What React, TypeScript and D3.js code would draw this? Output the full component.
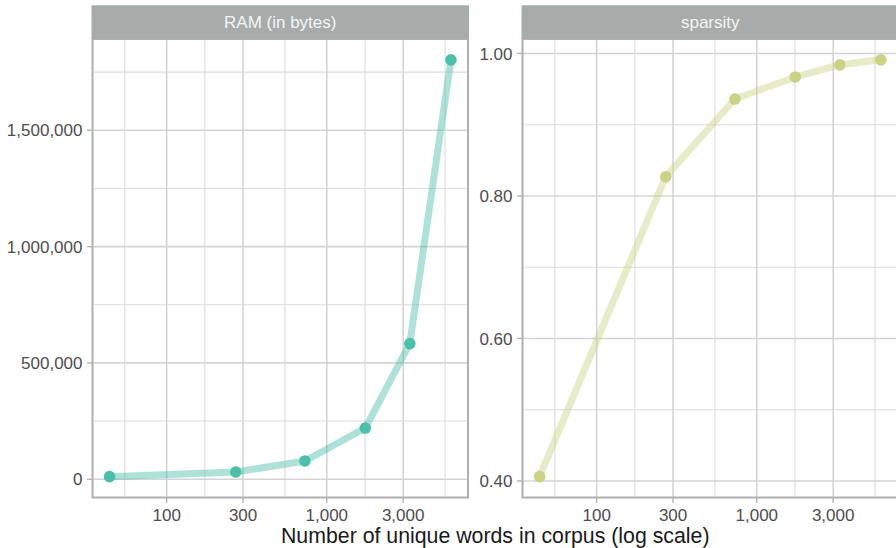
import React from "react";
import * as d3 from "d3";

// Corpus vocabulary size (x) and the two measured quantities per facet
const uniqueWords = [44, 270, 730, 1740, 3300, 5960];
const ramBytes = [11000, 31000, 78500, 220000, 583000, 1803000];
const sparsity = [0.406, 0.827, 0.936, 0.967, 0.984, 0.991];

const facetTitles = ["RAM (in bytes)", "sparsity"];
const xMajorTicks = [100, 300, 1000, 3000];
const xBreakSeq = [30, 100, 300, 1000, 3000, 10000];
const ramTicks = [0, 500000, 1000000, 1500000];
const ramMinor = [250000, 750000, 1250000, 1750000];
const sparsityTicks = [0.4, 0.6, 0.8, 1.0];
const sparsityMinor = [0.5, 0.7, 0.9];

const W = 896;
const H = 548;
const FONT = "'Liberation Sans', Arial, Helvetica, sans-serif";

const panelTop = 39;
const panelBottom = 497.5;
const stripTop = 5.3;
const panelW = 375.5;
const panelLefts = [92.5, 522.5];

type Facet = {
  title: string;
  values: number[];
  ticks: number[];
  minor: number[];
  fmt: (v: number) => string;
  point: string;
  id: string;
};

const facets: Facet[] = [
  {
    title: facetTitles[0],
    values: ramBytes,
    ticks: ramTicks,
    minor: ramMinor,
    fmt: d3.format(",d"),
    point: "#4bbfa9",
    id: "ram",
  },
  {
    title: facetTitles[1],
    values: sparsity,
    ticks: sparsityTicks,
    minor: sparsityMinor,
    fmt: d3.format(".2f"),
    point: "#c9d383",
    id: "sparsity",
  },
];

// 5% expansion of a numeric range, ggplot style
function expand([a, b]: [number, number]): [number, number] {
  const d = (b - a) * 0.05;
  return [a - d, b + d];
}

const logExt = d3.extent(uniqueWords.map(Math.log10)) as [number, number];
const logDom = expand(logExt);
const xDomain: [number, number] = [10 ** logDom[0], 10 ** logDom[1]];

// minor x breaks sit midway (in log space) between consecutive major breaks
const xMinorTicks = d3
  .pairs(xBreakSeq)
  .map(([a, b]) => Math.sqrt(a * b))
  .filter((v) => v >= xDomain[0] && v <= xDomain[1]);

function Panel({ facet, left }: { facet: Facet; left: number }) {
  const x = d3.scaleLog().domain(xDomain).range([left, left + panelW]);
  const yDom = expand(d3.extent(facet.values) as [number, number]);
  const y = d3.scaleLinear().domain(yDom).range([panelBottom, panelTop]);
  const pts = uniqueWords.map((w, i) => [x(w), y(facet.values[i])] as [number, number]);
  const line = d3.line()(pts) || "";
  const clipId = `clip-${facet.id}`;

  return (
    <g>
      <defs>
        <clipPath id={clipId}>
          <rect x={left} y={panelTop} width={panelW} height={panelBottom - panelTop} />
        </clipPath>
      </defs>
      <rect x={left} y={panelTop} width={panelW} height={panelBottom - panelTop} fill="#ffffff" />
      {/* minor grid */}
      {xMinorTicks.map((t) => (
        <line key={`xm${t}`} x1={x(t)} x2={x(t)} y1={panelTop} y2={panelBottom} stroke="#dcdcdc" strokeWidth={1.1} />
      ))}
      {facet.minor.map((t) => (
        <line key={`ym${t}`} x1={left} x2={left + panelW} y1={y(t)} y2={y(t)} stroke="#dcdcdc" strokeWidth={1.1} />
      ))}
      {/* major grid */}
      {xMajorTicks.map((t) => (
        <line key={`xM${t}`} x1={x(t)} x2={x(t)} y1={panelTop} y2={panelBottom} stroke="#d4d4d4" strokeWidth={1.6} />
      ))}
      {facet.ticks.map((t) => (
        <line key={`yM${t}`} x1={left} x2={left + panelW} y1={y(t)} y2={y(t)} stroke="#d4d4d4" strokeWidth={1.6} />
      ))}
      <g clipPath={`url(#${clipId})`}>
        <path d={line} fill="none" stroke={facet.point} strokeOpacity={0.45} strokeWidth={7} strokeLinejoin="round" />
        {pts.map(([px, py], i) => (
          <circle key={i} cx={px} cy={py} r={5.8} fill={facet.point} />
        ))}
      </g>
      {/* panel border */}
      <rect x={left} y={panelTop} width={panelW} height={panelBottom - panelTop} fill="none" stroke="#b0b0b0" strokeWidth={2} />
      {/* strip */}
      <rect x={left - 1} y={stripTop} width={panelW + 2} height={panelTop - stripTop} fill="#a7abaa" />
      <text
        x={left + panelW / 2}
        y={(stripTop + panelTop) / 2}
        dy="0.36em"
        textAnchor="middle"
        fontFamily={FONT}
        fontSize={17}
        fill="#f5f5f5"
      >
        {facet.title}
      </text>
      {/* y axis */}
      {facet.ticks.map((t) => (
        <g key={`yt${t}`}>
          <line x1={left - 5.5} x2={left} y1={y(t)} y2={y(t)} stroke="#b3b3b3" strokeWidth={1.4} />
          <text x={left - 10} y={y(t)} dy="0.36em" textAnchor="end" fontFamily={FONT} fontSize={17} fill="#4d4d4d">
            {facet.fmt(t)}
          </text>
        </g>
      ))}
      {/* x axis */}
      {xMajorTicks.map((t) => (
        <g key={`xt${t}`}>
          <line x1={x(t)} x2={x(t)} y1={panelBottom} y2={panelBottom + 5.5} stroke="#b3b3b3" strokeWidth={1.4} />
          <text x={x(t)} y={520.8} textAnchor="middle" fontFamily={FONT} fontSize={17} fill="#4d4d4d">
            {d3.format(",d")(t)}
          </text>
        </g>
      ))}
    </g>
  );
}

export default function App() {
  return (
    <svg
      width={W}
      height={H}
      viewBox={`0 0 ${W} ${H}`}
      style={{ position: "absolute", left: 0, top: 0, display: "block", background: "#ffffff" }}
    >
      <rect x={0} y={0} width={W} height={H} fill="#ffffff" />
      {facets.map((f, i) => (
        <Panel key={f.id} facet={f} left={panelLefts[i]} />
      ))}
      <text
        x={(panelLefts[0] + panelLefts[1] + panelW) / 2}
        y={542.5}
        textAnchor="middle"
        fontFamily={FONT}
        fontSize={21.3}
        fill="#1a1a1a"
      >
        Number of unique words in corpus (log scale)
      </text>
    </svg>
  );
}
